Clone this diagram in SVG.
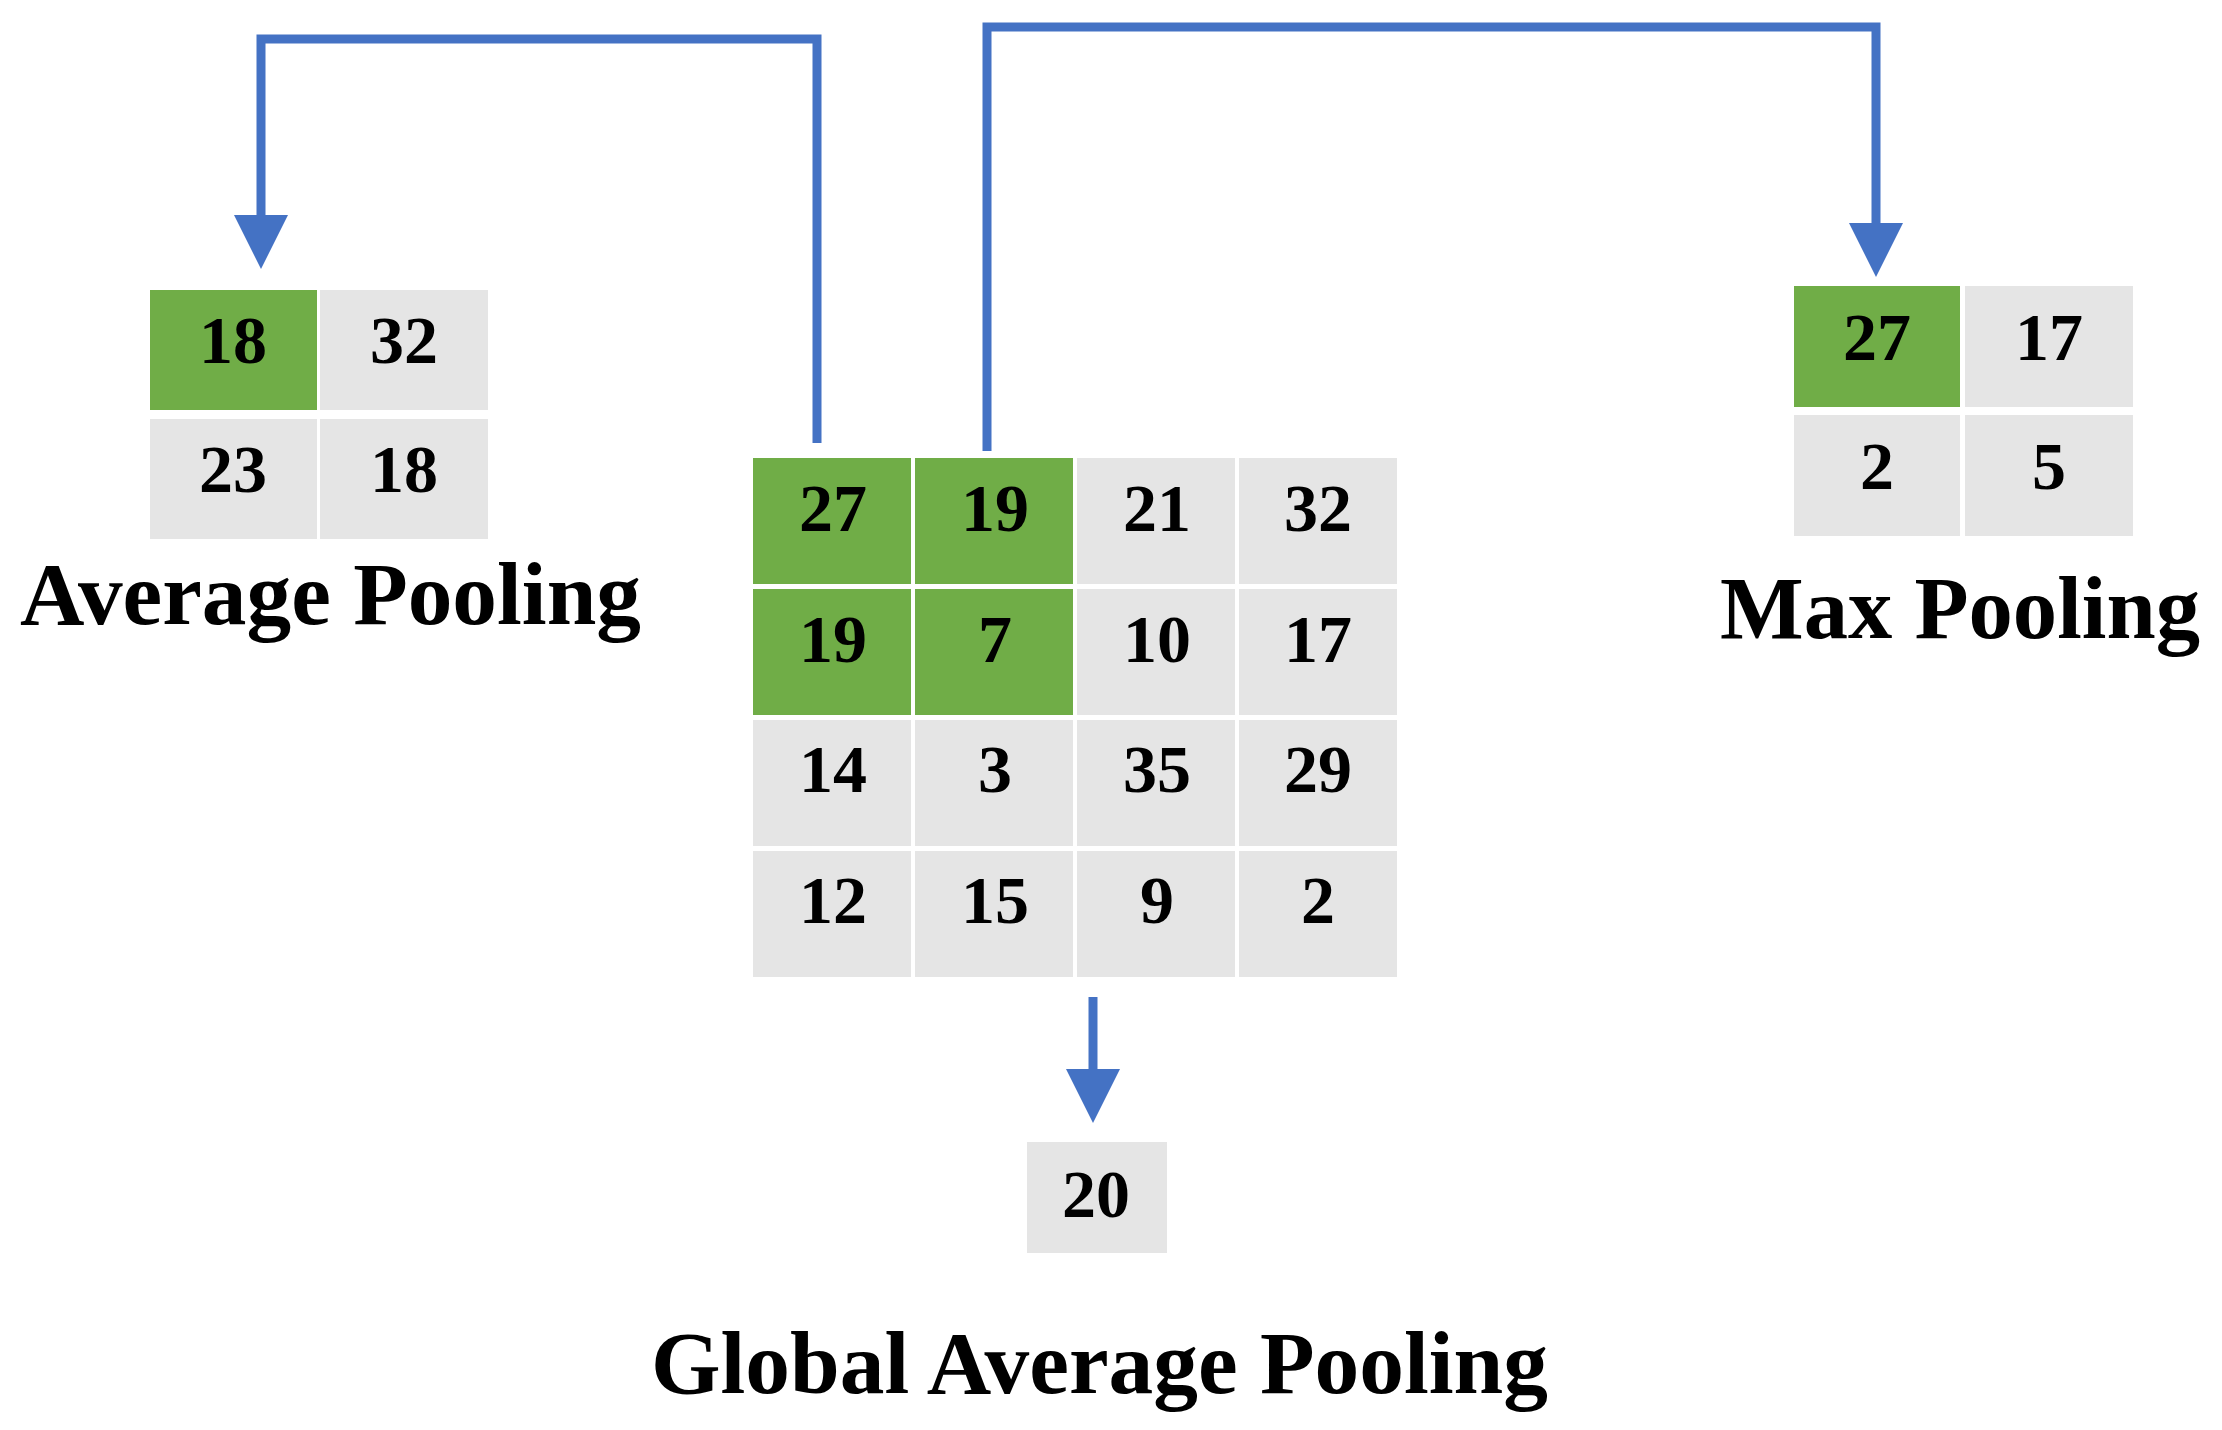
<svg xmlns="http://www.w3.org/2000/svg" width="2222" height="1430" viewBox="0 0 2222 1430">
  <style>
    .g { fill: #70AD47; }
    .c { fill: #E5E5E5; }
    .n { font-family: "Liberation Serif", "Times New Roman", serif; font-weight: bold; font-size: 68px; fill: #000; text-anchor: middle; }
    .lbl { font-family: "Liberation Serif", "Times New Roman", serif; font-weight: bold; font-size: 88px; fill: #000; }
    .conn { fill: none; stroke: #4472C4; stroke-width: 9; stroke-linejoin: miter; }
  </style>
  <defs>
    <marker id="head" viewBox="0 0 54 54" markerWidth="54" markerHeight="54" refX="0" refY="27" orient="auto" markerUnits="userSpaceOnUse">
      <path d="M0,0 L54,27 L0,54 z" fill="#4472C4"/>
    </marker>
  </defs>
  <rect width="2222" height="1430" fill="#FFFFFF"/>

  <g id="connectors">
    <path class="conn" d="M817,443 V39 H261 V215" marker-end="url(#head)"/>
    <path class="conn" d="M987,451 V27 H1876 V223" marker-end="url(#head)"/>
    <path class="conn" d="M1093,997 V1069" marker-end="url(#head)"/>
  </g>

  <g id="average-pooling">
    <rect class="g" x="150" y="290" width="167" height="120"/>
    <rect class="c" x="320" y="290" width="168" height="120"/>
    <rect class="c" x="150" y="419" width="167" height="120"/>
    <rect class="c" x="320" y="419" width="168" height="120"/>
    <text class="n" x="233" y="363">18</text>
    <text class="n" x="404" y="363">32</text>
    <text class="n" x="233" y="492">23</text>
    <text class="n" x="404" y="492">18</text>
    <text class="lbl" x="20" y="624" textLength="621" lengthAdjust="spacingAndGlyphs">Average Pooling</text>
  </g>

  <g id="input-map">
    <rect class="g" x="753" y="458" width="158" height="126"/>
    <rect class="g" x="915" y="458" width="158" height="126"/>
    <rect class="c" x="1077" y="458" width="158" height="126"/>
    <rect class="c" x="1239" y="458" width="158" height="126"/>
    <rect class="g" x="753" y="589" width="158" height="126"/>
    <rect class="g" x="915" y="589" width="158" height="126"/>
    <rect class="c" x="1077" y="589" width="158" height="126"/>
    <rect class="c" x="1239" y="589" width="158" height="126"/>
    <rect class="c" x="753" y="720" width="158" height="126"/>
    <rect class="c" x="915" y="720" width="158" height="126"/>
    <rect class="c" x="1077" y="720" width="158" height="126"/>
    <rect class="c" x="1239" y="720" width="158" height="126"/>
    <rect class="c" x="753" y="851" width="158" height="126"/>
    <rect class="c" x="915" y="851" width="158" height="126"/>
    <rect class="c" x="1077" y="851" width="158" height="126"/>
    <rect class="c" x="1239" y="851" width="158" height="126"/>
    <text class="n" x="833" y="531">27</text>
    <text class="n" x="995" y="531">19</text>
    <text class="n" x="1157" y="531">21</text>
    <text class="n" x="1318" y="531">32</text>
    <text class="n" x="833" y="662">19</text>
    <text class="n" x="995" y="662">7</text>
    <text class="n" x="1157" y="662">10</text>
    <text class="n" x="1318" y="662">17</text>
    <text class="n" x="833" y="792">14</text>
    <text class="n" x="995" y="792">3</text>
    <text class="n" x="1157" y="792">35</text>
    <text class="n" x="1318" y="792">29</text>
    <text class="n" x="833" y="923">12</text>
    <text class="n" x="995" y="923">15</text>
    <text class="n" x="1157" y="923">9</text>
    <text class="n" x="1318" y="923">2</text>
  </g>

  <g id="max-pooling">
    <rect class="g" x="1794" y="286" width="166" height="121"/>
    <rect class="c" x="1965" y="286" width="168" height="121"/>
    <rect class="c" x="1794" y="415" width="166" height="121"/>
    <rect class="c" x="1965" y="415" width="168" height="121"/>
    <text class="n" x="1877" y="360">27</text>
    <text class="n" x="2049" y="360">17</text>
    <text class="n" x="1877" y="489">2</text>
    <text class="n" x="2049" y="489">5</text>
    <text class="lbl" x="1720" y="638" textLength="480" lengthAdjust="spacingAndGlyphs">Max Pooling</text>
  </g>

  <g id="global-average-pooling">
    <rect class="c" x="1027" y="1142" width="140" height="111"/>
    <text class="n" x="1096" y="1217">20</text>
    <text class="lbl" x="651" y="1393" textLength="897" lengthAdjust="spacingAndGlyphs">Global Average Pooling</text>
  </g>
</svg>
